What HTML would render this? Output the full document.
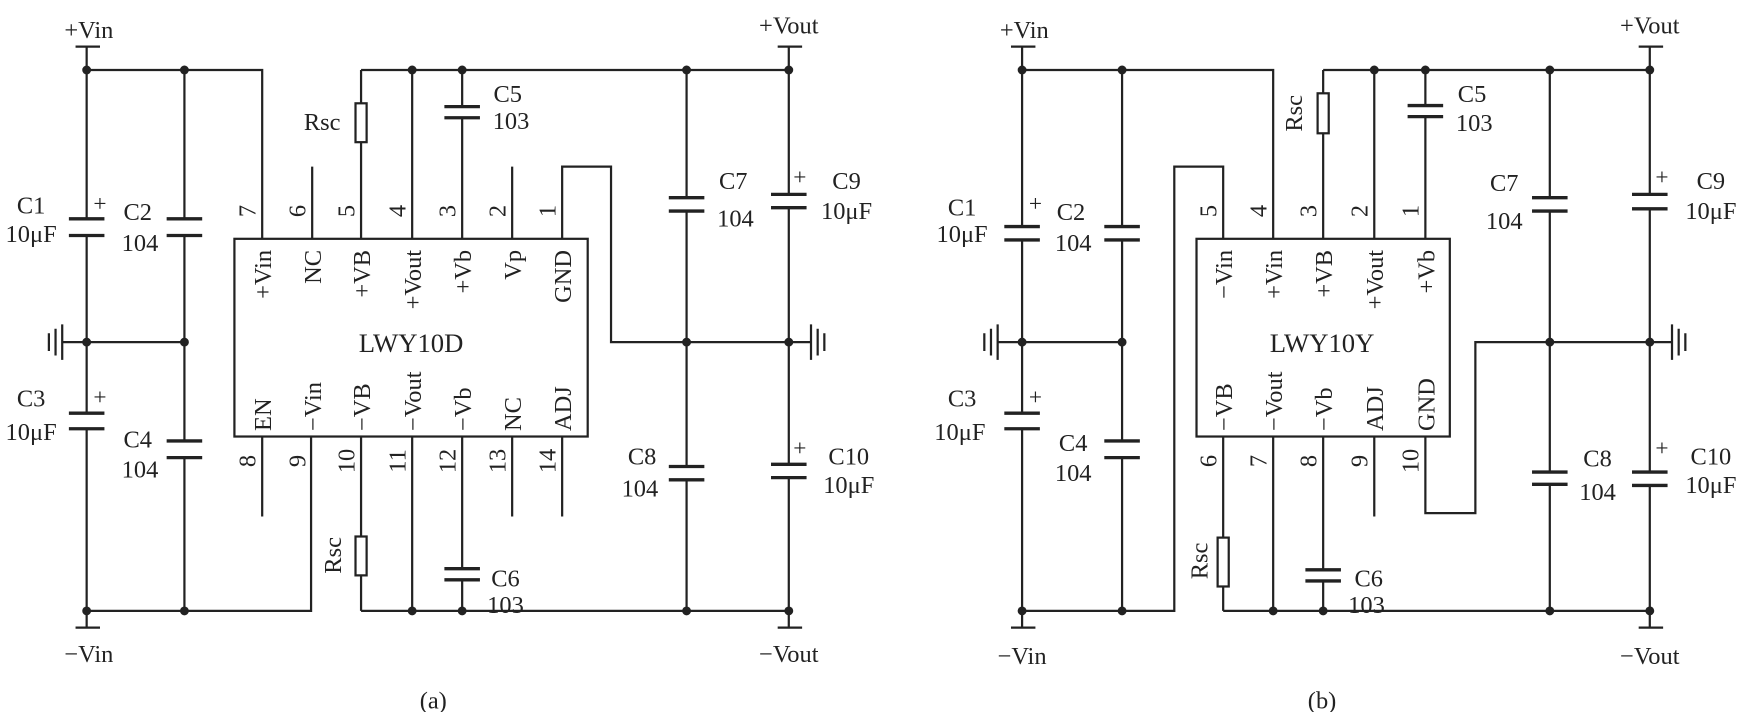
<!DOCTYPE html>
<html><head><meta charset="utf-8"><style>
html,body{margin:0;padding:0;background:#fff;}
svg{display:block}
text{font-family:"Liberation Serif",serif;font-size:22px;fill:#222}
.n{font-size:21px}
</style></head><body>
<svg width="1742" height="712" viewBox="0 0 1568 641" preserveAspectRatio="none" xmlns="http://www.w3.org/2000/svg">
<g stroke="#222" stroke-width="2" fill="none">
<path d="M68 42H90M78 42V197M78 212V372M78 386V550M68 565H90M78 550V565"/>
<path d="M78 63H236V215M166 63V197M166 212V397M166 412V550"/>
<path d="M62 197H94M62 212H94M62 372H94M62 386H94M150 197H182M150 212H182M150 397H182M150 412H182" stroke-width="3"/>
<path d="M56 308H166M56 292V324M50 296V320M44 300V316"/>
<path d="M78 550H280V393"/>
<rect x="211" y="215" width="318" height="178"/>
<path d="M281 150V215M461 150V215M506 215V150H550V308H710M325 63H710M325 63V93M325 128V215M371 63V215M416 63V96M416 106V215"/>
<rect x="320" y="93" width="10" height="35" fill="#fff"/>
<path d="M400 96H432M400 106H432" stroke-width="3"/>
<path d="M236 393V465M461 393V465M506 393V465M325 393V483M325 518V550M371 393V550M416 393V512M416 522V550M325 550H710"/>
<rect x="320" y="483" width="10" height="35" fill="#fff"/>
<path d="M400 512H432M400 522H432" stroke-width="3"/>
<path d="M618 63V178M618 190V420M618 432V550M710 42V175M710 187V418M710 430V565M700 42H722M700 565H722"/>
<path d="M602 178H634M602 190H634M602 420H634M602 432H634M694 175H726M694 187H726M694 418H726M694 430H726" stroke-width="3"/>
<path d="M730 292V324M736 296V320M742 300V316"/>
<path d="M710 308H730"/>
<path d="M910 42H932M920 42V204M920 216V372M920 386V550M910 565H932M920 550V565"/>
<path d="M920 63H1146V215M1010 63V204M1010 216V397M1010 412V550"/>
<path d="M904 204H936M904 216H936M904 372H936M904 386H936M994 204H1026M994 216H1026M994 397H1026M994 412H1026" stroke-width="3"/>
<path d="M898 308H1010M898 292V324M892 296V320M886 300V316"/>
<path d="M920 550H1057V150H1101V215"/>
<rect x="1077" y="215" width="228" height="178"/>
<path d="M1191 63H1485M1191 63V84M1191 120V215M1237 63V215M1283 63V95M1283 105V215"/>
<rect x="1186" y="84" width="10" height="36" fill="#fff"/>
<path d="M1267 95H1299M1267 105H1299" stroke-width="3"/>
<path d="M1101 393V484M1101 528V550M1146 393V550M1191 393V513M1191 523V550M1237 393V465M1283 393V462H1328V308H1485M1101 550H1485"/>
<rect x="1096" y="484" width="10" height="44" fill="#fff"/>
<path d="M1175 513H1207M1175 523H1207" stroke-width="3"/>
<path d="M1395 63V178M1395 190V425M1395 436V550M1485 42V175M1485 188V425M1485 437V565M1475 42H1497M1475 565H1497"/>
<path d="M1379 178H1411M1379 190H1411M1379 425H1411M1379 436H1411M1469 175H1501M1469 188H1501M1469 425H1501M1469 437H1501" stroke-width="3"/>
<path d="M1485 308H1505M1505 292V324M1511 296V320M1517 300V316"/>
</g>
<g fill="#222">
<circle cx="78" cy="63" r="4"/><circle cx="166" cy="63" r="4"/><circle cx="78" cy="308" r="4"/><circle cx="166" cy="308" r="4"/><circle cx="78" cy="550" r="4"/><circle cx="166" cy="550" r="4"/>
<circle cx="371" cy="63" r="4"/><circle cx="416" cy="63" r="4"/><circle cx="618" cy="63" r="4"/><circle cx="710" cy="63" r="4"/>
<circle cx="618" cy="308" r="4"/><circle cx="710" cy="308" r="4"/>
<circle cx="371" cy="550" r="4"/><circle cx="416" cy="550" r="4"/><circle cx="618" cy="550" r="4"/><circle cx="710" cy="550" r="4"/>
<circle cx="920" cy="63" r="4"/><circle cx="1010" cy="63" r="4"/><circle cx="920" cy="308" r="4"/><circle cx="1010" cy="308" r="4"/><circle cx="920" cy="550" r="4"/><circle cx="1010" cy="550" r="4"/>
<circle cx="1237" cy="63" r="4"/><circle cx="1283" cy="63" r="4"/><circle cx="1395" cy="63" r="4"/><circle cx="1485" cy="63" r="4"/>
<circle cx="1395" cy="308" r="4"/><circle cx="1485" cy="308" r="4"/>
<circle cx="1146" cy="550" r="4"/><circle cx="1191" cy="550" r="4"/><circle cx="1395" cy="550" r="4"/><circle cx="1485" cy="550" r="4"/>
</g>
<text x="80" y="34" text-anchor="middle">+Vin</text>
<text x="80" y="596" text-anchor="middle">−Vin</text>
<text x="710" y="30" text-anchor="middle">+Vout</text>
<text x="710" y="596" text-anchor="middle">−Vout</text>
<text x="390" y="638" text-anchor="middle">(a)</text>
<text x="90" y="190" text-anchor="middle" class="n">+</text>
<text x="90" y="364" text-anchor="middle" class="n">+</text>
<text x="720" y="166" text-anchor="middle" class="n">+</text>
<text x="720" y="410" text-anchor="middle" class="n">+</text>
<text x="28" y="192" text-anchor="middle">C1</text><text x="28" y="218" text-anchor="middle">10μF</text>
<text x="124" y="198" text-anchor="middle">C2</text><text x="126" y="226" text-anchor="middle">104</text>
<text x="28" y="366" text-anchor="middle">C3</text><text x="28" y="396" text-anchor="middle">10μF</text>
<text x="124" y="403" text-anchor="middle">C4</text><text x="126" y="430" text-anchor="middle">104</text>
<text x="290" y="117" text-anchor="middle">Rsc</text>
<text x="457" y="92" text-anchor="middle">C5</text><text x="460" y="116" text-anchor="middle">103</text>
<text x="455" y="528" text-anchor="middle">C6</text><text x="455" y="552" text-anchor="middle">103</text>
<text x="660" y="170" text-anchor="middle">C7</text><text x="662" y="204" text-anchor="middle">104</text>
<text x="578" y="418" text-anchor="middle">C8</text><text x="576" y="447" text-anchor="middle">104</text>
<text x="762" y="170" text-anchor="middle">C9</text><text x="762" y="197" text-anchor="middle">10μF</text>
<text x="764" y="418" text-anchor="middle">C10</text><text x="764" y="444" text-anchor="middle">10μF</text>
<text x="300" y="500" transform="rotate(-90 300 500)" text-anchor="middle" dy="7">Rsc</text>
<text x="370" y="317" text-anchor="middle" style="font-size:24px">LWY10D</text>
<g style="font-size:23px">
<text transform="translate(244,225) rotate(-90)" text-anchor="end">+Vin</text>
<text transform="translate(289,225) rotate(-90)" text-anchor="end">NC</text>
<text transform="translate(333,225) rotate(-90)" text-anchor="end">+VB</text>
<text transform="translate(379,225) rotate(-90)" text-anchor="end">+Vout</text>
<text transform="translate(424,225) rotate(-90)" text-anchor="end">+Vb</text>
<text transform="translate(469,225) rotate(-90)" text-anchor="end">Vp</text>
<text transform="translate(514,225) rotate(-90)" text-anchor="end">GND</text>
<text transform="translate(244,388) rotate(-90)">EN</text>
<text transform="translate(289,388) rotate(-90)">−Vin</text>
<text transform="translate(333,388) rotate(-90)">−VB</text>
<text transform="translate(379,388) rotate(-90)">−Vout</text>
<text transform="translate(424,388) rotate(-90)">−Vb</text>
<text transform="translate(469,388) rotate(-90)">NC</text>
<text transform="translate(514,388) rotate(-90)">ADJ</text>
</g>
<g class="n">
<text transform="translate(230,190) rotate(-90)" text-anchor="middle">7</text>
<text transform="translate(275,190) rotate(-90)" text-anchor="middle">6</text>
<text transform="translate(319,190) rotate(-90)" text-anchor="middle">5</text>
<text transform="translate(365,190) rotate(-90)" text-anchor="middle">4</text>
<text transform="translate(410,190) rotate(-90)" text-anchor="middle">3</text>
<text transform="translate(455,190) rotate(-90)" text-anchor="middle">2</text>
<text transform="translate(500,190) rotate(-90)" text-anchor="middle">1</text>
<text transform="translate(230,415) rotate(-90)" text-anchor="middle">8</text>
<text transform="translate(275,415) rotate(-90)" text-anchor="middle">9</text>
<text transform="translate(319,415) rotate(-90)" text-anchor="middle">10</text>
<text transform="translate(365,415) rotate(-90)" text-anchor="middle">11</text>
<text transform="translate(410,415) rotate(-90)" text-anchor="middle">12</text>
<text transform="translate(455,415) rotate(-90)" text-anchor="middle">13</text>
<text transform="translate(500,415) rotate(-90)" text-anchor="middle">14</text>
</g>
<text x="922" y="34" text-anchor="middle">+Vin</text>
<text x="920" y="598" text-anchor="middle">−Vin</text>
<text x="1485" y="30" text-anchor="middle">+Vout</text>
<text x="1485" y="598" text-anchor="middle">−Vout</text>
<text x="1190" y="638" text-anchor="middle">(b)</text>
<text x="932" y="190" text-anchor="middle" class="n">+</text>
<text x="932" y="364" text-anchor="middle" class="n">+</text>
<text x="1496" y="166" text-anchor="middle" class="n">+</text>
<text x="1496" y="410" text-anchor="middle" class="n">+</text>
<text x="866" y="194" text-anchor="middle">C1</text><text x="866" y="218" text-anchor="middle">10μF</text>
<text x="964" y="198" text-anchor="middle">C2</text><text x="966" y="226" text-anchor="middle">104</text>
<text x="866" y="366" text-anchor="middle">C3</text><text x="864" y="396" text-anchor="middle">10μF</text>
<text x="966" y="406" text-anchor="middle">C4</text><text x="966" y="433" text-anchor="middle">104</text>
<text transform="translate(1172,102) rotate(-90)" text-anchor="middle">Rsc</text>
<text x="1325" y="92" text-anchor="middle">C5</text><text x="1327" y="118" text-anchor="middle">103</text>
<text x="1232" y="528" text-anchor="middle">C6</text><text x="1230" y="552" text-anchor="middle">103</text>
<text transform="translate(1087,505) rotate(-90)" text-anchor="middle">Rsc</text>
<text x="1354" y="172" text-anchor="middle">C7</text><text x="1354" y="206" text-anchor="middle">104</text>
<text x="1438" y="420" text-anchor="middle">C8</text><text x="1438" y="450" text-anchor="middle">104</text>
<text x="1540" y="170" text-anchor="middle">C9</text><text x="1540" y="197" text-anchor="middle">10μF</text>
<text x="1540" y="418" text-anchor="middle">C10</text><text x="1540" y="444" text-anchor="middle">10μF</text>
<text x="1190" y="317" text-anchor="middle" style="font-size:24px">LWY10Y</text>
<g style="font-size:23px">
<text transform="translate(1109,225) rotate(-90)" text-anchor="end">−Vin</text>
<text transform="translate(1154,225) rotate(-90)" text-anchor="end">+Vin</text>
<text transform="translate(1199,225) rotate(-90)" text-anchor="end">+VB</text>
<text transform="translate(1245,225) rotate(-90)" text-anchor="end">+Vout</text>
<text transform="translate(1291,225) rotate(-90)" text-anchor="end">+Vb</text>
<text transform="translate(1109,388) rotate(-90)">−VB</text>
<text transform="translate(1154,388) rotate(-90)">−Vout</text>
<text transform="translate(1199,388) rotate(-90)">−Vb</text>
<text transform="translate(1245,388) rotate(-90)">ADJ</text>
<text transform="translate(1291,388) rotate(-90)">GND</text>
</g>
<g class="n">
<text transform="translate(1095,190) rotate(-90)" text-anchor="middle">5</text>
<text transform="translate(1140,190) rotate(-90)" text-anchor="middle">4</text>
<text transform="translate(1185,190) rotate(-90)" text-anchor="middle">3</text>
<text transform="translate(1231,190) rotate(-90)" text-anchor="middle">2</text>
<text transform="translate(1277,190) rotate(-90)" text-anchor="middle">1</text>
<text transform="translate(1095,415) rotate(-90)" text-anchor="middle">6</text>
<text transform="translate(1140,415) rotate(-90)" text-anchor="middle">7</text>
<text transform="translate(1185,415) rotate(-90)" text-anchor="middle">8</text>
<text transform="translate(1231,415) rotate(-90)" text-anchor="middle">9</text>
<text transform="translate(1277,415) rotate(-90)" text-anchor="middle">10</text>
</g>
</svg>
</body></html>
